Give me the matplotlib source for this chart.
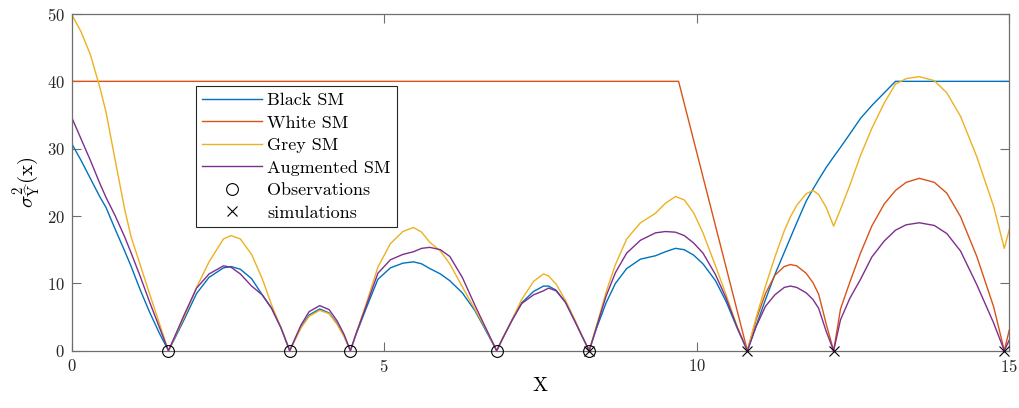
"""
Prediction variance of the surrogate models (Black / White / Grey / Augmented SM).
"""
import matplotlib
matplotlib.use("Agg")
import matplotlib.pyplot as plt

plt.rcParams.update({
    "font.family": "serif",
    "font.serif": ["cmr10"],
    "mathtext.fontset": "cm",
    "axes.formatter.use_mathtext": True,
    "axes.unicode_minus": False,
})

BLUE, RED, YELLOW, PURPLE = "#0072BD", "#D95319", "#EDB120", "#7E2F8E"

# x grid shared by Black, Grey and Augmented SM
x_grid = [
    0, 0.15, 0.3, 0.45, 0.55, 0.7, 0.85, 0.95, 1.1, 1.25, 1.4,
    1.55, 1.65, 1.8, 2.0, 2.2, 2.43, 2.55, 2.7, 2.88, 3.05, 3.2, 3.35,
    3.49, 3.57, 3.67, 3.8, 3.97, 4.12, 4.25, 4.36,
    4.46, 4.55, 4.7, 4.9, 5.1, 5.3, 5.47, 5.6, 5.73, 5.9, 6.05, 6.25, 6.45, 6.65,
    6.80, 6.9, 7.05, 7.2, 7.39, 7.55, 7.63, 7.75, 7.9, 8.05, 8.18,
    8.28, 8.4, 8.55, 8.7, 8.88, 9.1, 9.34, 9.5, 9.66, 9.8, 9.95, 10.1, 10.3, 10.47, 10.65,
    10.81, 10.95, 11.1, 11.25, 11.4, 11.5, 11.6, 11.75, 11.86, 11.95, 12.07,
    12.19, 12.3, 12.45, 12.62, 12.8, 13.0, 13.18, 13.35, 13.56, 13.8, 14.0, 14.22,
    14.48, 14.75, 14.92, 15.0,
]

black_sm = [
    30.8, 28.3, 25.6, 22.9, 21.3, 18.0, 14.8, 12.6, 9.0, 5.7, 2.7,
    0, 1.8, 4.6, 8.5, 10.9, 12.3, 12.5, 12.1, 10.7, 8.3, 6.3, 3.4,
    0, 1.6, 3.5, 5.3, 6.2, 5.6, 4.0, 2.2,
    0, 2.4, 6.0, 10.6, 12.3, 13.0, 13.2, 12.9, 12.2, 11.4, 10.4, 8.6, 6.0, 2.6,
    0, 1.9, 4.6, 7.1, 8.8, 9.6, 9.6, 9.0, 7.2, 4.4, 1.9,
    0, 3.4, 7.1, 10.0, 12.2, 13.6, 14.1, 14.7, 15.2, 15.0, 14.2, 12.9, 10.4, 7.3, 3.3,
    0, 3.7, 7.6, 11.3, 14.6, 16.8, 19.0, 22.2, 24.0, 25.4, 27.2,
    28.8, 30.2, 32.2, 34.5, 36.4, 38.3, 40.0, 40.0, 40.0, 40.0, 40.0, 40.0,
    40.0, 40.0, 40.0, 40.0,
]

grey_sm = [
    50.0, 47.4, 44.0, 39.2, 35.5, 28.2, 21.0, 17.0, 12.7, 8.4, 4.2,
    0, 2.0, 5.0, 9.4, 13.2, 16.6, 17.1, 16.6, 14.3, 10.7, 6.8, 3.4,
    0, 1.5, 3.4, 5.1, 6.0, 5.5, 3.9, 2.1,
    0, 2.5, 6.6, 12.4, 15.9, 17.7, 18.3, 17.6, 16.1, 14.8, 12.9, 9.5, 6.2, 2.8,
    0, 1.9, 4.7, 7.6, 10.3, 11.4, 11.1, 9.9, 7.5, 4.6, 1.9,
    0, 3.8, 8.7, 12.8, 16.6, 19.0, 20.4, 21.9, 22.9, 22.4, 20.5, 17.5, 12.6, 8.3, 3.5,
    0, 4.9, 9.6, 13.9, 17.8, 19.9, 21.6, 23.3, 23.8, 23.2, 21.3,
    18.5, 21.0, 24.6, 29.0, 33.0, 36.8, 39.6, 40.4, 40.7, 40.1, 38.3, 34.8,
    28.8, 21.4, 15.2, 18.0,
]

augmented_sm = [
    34.7, 31.5, 28.3, 24.9, 22.8, 20.0, 16.9, 14.6, 11.0, 7.2, 3.6,
    0, 2.1, 5.3, 9.3, 11.4, 12.6, 12.4, 11.4, 9.6, 8.3, 6.3, 3.4,
    0, 1.7, 3.8, 5.8, 6.7, 6.1, 4.4, 2.4,
    0, 2.5, 6.3, 11.5, 13.5, 14.3, 14.7, 15.2, 15.35, 15.0, 14.0, 10.9, 6.8, 2.9,
    0, 1.9, 4.6, 7.0, 8.3, 8.9, 9.3, 8.9, 7.2, 4.4, 1.9,
    0, 3.6, 8.1, 11.6, 14.5, 16.4, 17.5, 17.7, 17.6, 17.1, 16.0, 14.5, 11.3, 7.8, 3.4,
    0, 3.6, 6.6, 8.3, 9.4, 9.6, 9.4, 8.6, 7.6, 6.3, 2.9,
    0, 4.6, 7.8, 10.6, 13.9, 16.3, 17.9, 18.7, 19.0, 18.6, 17.4, 14.8,
    9.8, 4.1, 0, 1.6,
]

# White SM: flat plateau, linear drop, then arcs
x_white = [
    0, 9.71,
    10.81, 10.95, 11.1, 11.25, 11.4, 11.5, 11.6, 11.75, 11.86, 11.95, 12.07,
    12.19, 12.3, 12.45, 12.62, 12.8, 13.0, 13.18, 13.35, 13.56, 13.8, 14.0, 14.22,
    14.48, 14.75, 14.92, 15.0,
]
white_sm = [
    40.0, 40.0,
    0, 4.6, 8.5, 11.2, 12.5, 12.8, 12.6, 11.5, 10.1, 8.4, 4.0,
    0, 6.2, 10.2, 14.5, 18.5, 21.8, 23.8, 25.0, 25.6, 25.0, 23.4, 19.9,
    14.0, 6.5, 0, 3.1,
]

x_obs = [1.55, 3.49, 4.46, 6.80, 8.28]
x_sim = [8.28, 10.81, 12.19, 14.92]

fig = plt.figure(figsize=(10.19, 4.08), dpi=100)
ax = fig.add_axes([0.0702, 0.1404, 0.9203, 0.8253])

ax.plot(x_grid, black_sm, color=BLUE, lw=1.0, label="Black SM")
ax.plot(x_white, white_sm, color=RED, lw=1.0, label="White SM")
ax.plot(x_grid, grey_sm, color=YELLOW, lw=1.0, label="Grey SM")
ax.plot(x_grid, augmented_sm, color=PURPLE, lw=1.0, label="Augmented SM")
ax.plot(x_obs, [0] * len(x_obs), "o", mfc="none", mec="black", mew=0.8, ms=8.5,
        ls="none", clip_on=False, zorder=5, label="Observations")
ax.plot(x_sim, [0] * len(x_sim), "x", color="black", mew=0.8, ms=7,
        ls="none", clip_on=False, zorder=5, label="simulations")

ax.set_xlim(0, 15)
ax.set_ylim(0, 50)
ax.set_xticks([0, 5, 10, 15])
ax.set_yticks([0, 10, 20, 30, 40, 50])
ax.tick_params(direction="in", top=True, right=True, length=6.8, width=0.8,
               labelsize=12, colors="#6e6e6e", labelcolor="#262626", pad=5)
for s in ax.spines.values():
    s.set_color("#6e6e6e")
    s.set_linewidth(0.9)

ax.set_xlabel("X", fontsize=14.5, labelpad=2)
ax.set_ylabel(r"$\sigma^2_{\widehat{\mathrm{Y}}}(\mathrm{x})$", fontsize=15, labelpad=3)

leg = ax.legend(loc="upper left", bbox_to_anchor=(0.1328, 0.786), borderaxespad=0,
                fontsize=13, handlelength=3.3, handletextpad=0.3, labelspacing=0.38,
                borderpad=0.35, fancybox=False, framealpha=1, edgecolor="#262626")
leg.get_frame().set_linewidth(0.8)

fig.savefig("out.png", dpi=100)
